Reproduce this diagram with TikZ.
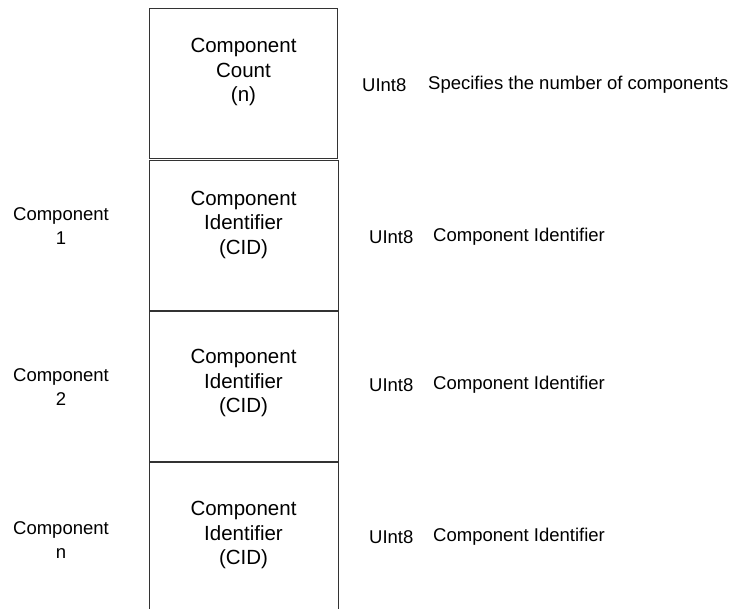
\documentclass[tikz,border=0pt]{standalone}
\usepackage{fontspec}
\setmainfont{Liberation Sans}
\begin{document}
\begin{tikzpicture}[x=1pt,y=-1pt,
  boxline/.style={draw=black!80,line width=0.9pt},
  boxtext/.style={align=center,font=\fontsize{20.5}{24.5}\selectfont,inner sep=0pt},
  sidetext/.style={align=center,font=\fontsize{18.5}{23.5}\selectfont,inner sep=0pt},
  typetext/.style={anchor=west,font=\fontsize{18.5}{22}\selectfont,inner sep=0pt}]
\useasboundingbox (0,0) rectangle (731,609);
\path[boxline] (149,8) rectangle (337,158);
\path[boxline] (149.5,160) rectangle (338,310);
\path[boxline] (149.5,311.5) rectangle (338,461);
\path[boxline] (149.5,615) -- (149.5,462.5) -- (338,462.5) -- (338,615);
\node[boxtext] (b1) at (243.5,72) {Component\\Count\\(n)};
\node[boxtext] (b2) at (243.5,224.5) {Component\\Identifier\\(CID)};
\node[boxtext] (b3) at (243.5,383) {Component\\Identifier\\(CID)};
\node[boxtext] (b4) at (243.5,535) {Component\\Identifier\\(CID)};
\node[sidetext] (l1) at (61,226) {Component\\1};
\node[sidetext] (l2) at (61,387) {Component\\2};
\node[sidetext] (l3) at (61,540) {Component\\n};
\node[typetext] (t1) at (362,85) {UInt8};
\node[typetext] (d1) at (428,85) {Specifies the number of components};
\node[typetext] (t2) at (369,237) {UInt8};
\node[typetext] (d2) at (433,237) {Component Identifier};
\node[typetext] (t3) at (369,385) {UInt8};
\node[typetext] (d3) at (433,385) {Component Identifier};
\node[typetext] (t4) at (369,537) {UInt8};
\node[typetext] (d4) at (433,537) {Component Identifier};
\end{tikzpicture}
\end{document}
